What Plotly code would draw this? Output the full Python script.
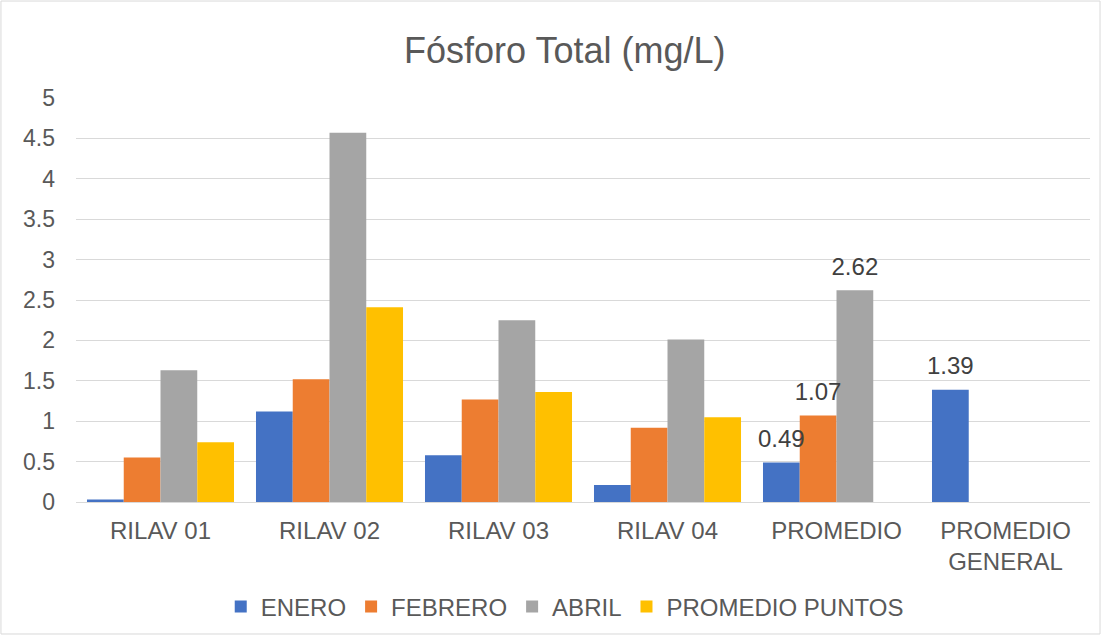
import plotly.graph_objects as go

categories = ["RILAV 01", "RILAV 02", "RILAV 03", "RILAV 04", "PROMEDIO", "PROMEDIO<br>GENERAL"]
enero = [0.03, 1.12, 0.58, 0.21, 0.49, 1.39]
febrero = [0.55, 1.52, 1.27, 0.92, 1.07, None]
abril = [1.63, 4.57, 2.25, 2.01, 2.62, None]
promedio_puntos = [0.74, 2.41, 1.36, 1.05, None, None]

series_names = ["ENERO", "FEBRERO", "ABRIL", "PROMEDIO PUNTOS"]
series_values = [enero, febrero, abril, promedio_puntos]
colors = ["#4472C4", "#ED7D31", "#A5A5A5", "#FFC000"]
labeled_categories = {"PROMEDIO", "PROMEDIO<br>GENERAL"}

fig = go.Figure()
for i, (name, vals, col) in enumerate(zip(series_names, series_values, colors)):
    fig.add_trace(go.Bar(
        x=categories, y=vals, name=name, offsetgroup=str(i),
        marker=dict(color=col, line=dict(width=0)),
    ))
for i, (name, vals) in enumerate(zip(series_names, series_values)):
    lx = [c for c, v in zip(categories, vals) if c in labeled_categories and v is not None]
    ly = [v for c, v in zip(categories, vals) if c in labeled_categories and v is not None]
    fig.add_trace(go.Scatter(
        x=lx, y=ly, mode="markers+text", offsetgroup=str(i),
        text=[f"{v:.2f}" for v in ly], textposition="top center",
        marker=dict(size=14, opacity=0),
        textfont=dict(size=24, color="#404040"),
        showlegend=False, hoverinfo="skip", cliponaxis=False,
    ))

fig.update_layout(
    barmode="group",
    scattermode="group",
    bargap=0.13,
    scattergap=0.13,
    bargroupgap=0,
    width=1103, height=636,
    margin=dict(l=76, r=13, t=98, b=134),
    paper_bgcolor="white", plot_bgcolor="white",
    font=dict(family="Arial, Liberation Sans, sans-serif", color="#595959", size=18),
    title=dict(text="Fósforo Total (mg/L)", x=0.512, xanchor="center", y=0.921, yanchor="middle",
               font=dict(size=36, color="#595959")),
    xaxis=dict(showgrid=False, showline=False, ticks="", tickfont=dict(size=24, color="#595959"),
               ticklabelstandoff=12, automargin=False),
    yaxis=dict(range=[0, 5], dtick=0.5, showgrid=True, gridcolor="#D9D9D9", gridwidth=1,
               zeroline=True, zerolinecolor="#D9D9D9", zerolinewidth=1,
               showline=False, ticks="", tickfont=dict(size=23, color="#595959"),
               ticklabelstandoff=20, automargin=False),
    legend=dict(orientation="h", x=0.512, xanchor="center", xref="container",
                y=0.0456, yanchor="middle", yref="container",
                font=dict(size=24, color="#595959"), itemwidth=30, traceorder="normal"),
    shapes=[dict(type="rect", xref="paper", yref="paper", x0=-0.074, x1=1.0099, y0=-0.3267, y1=1.240,
                 line=dict(color="#D9D9D9", width=1), fillcolor="rgba(0,0,0,0)", layer="below")],
)

fig.write_html("out.html", config={"displayModeBar": False},
               post_script="document.body.style.margin='0px';document.body.style.padding='0px';")
